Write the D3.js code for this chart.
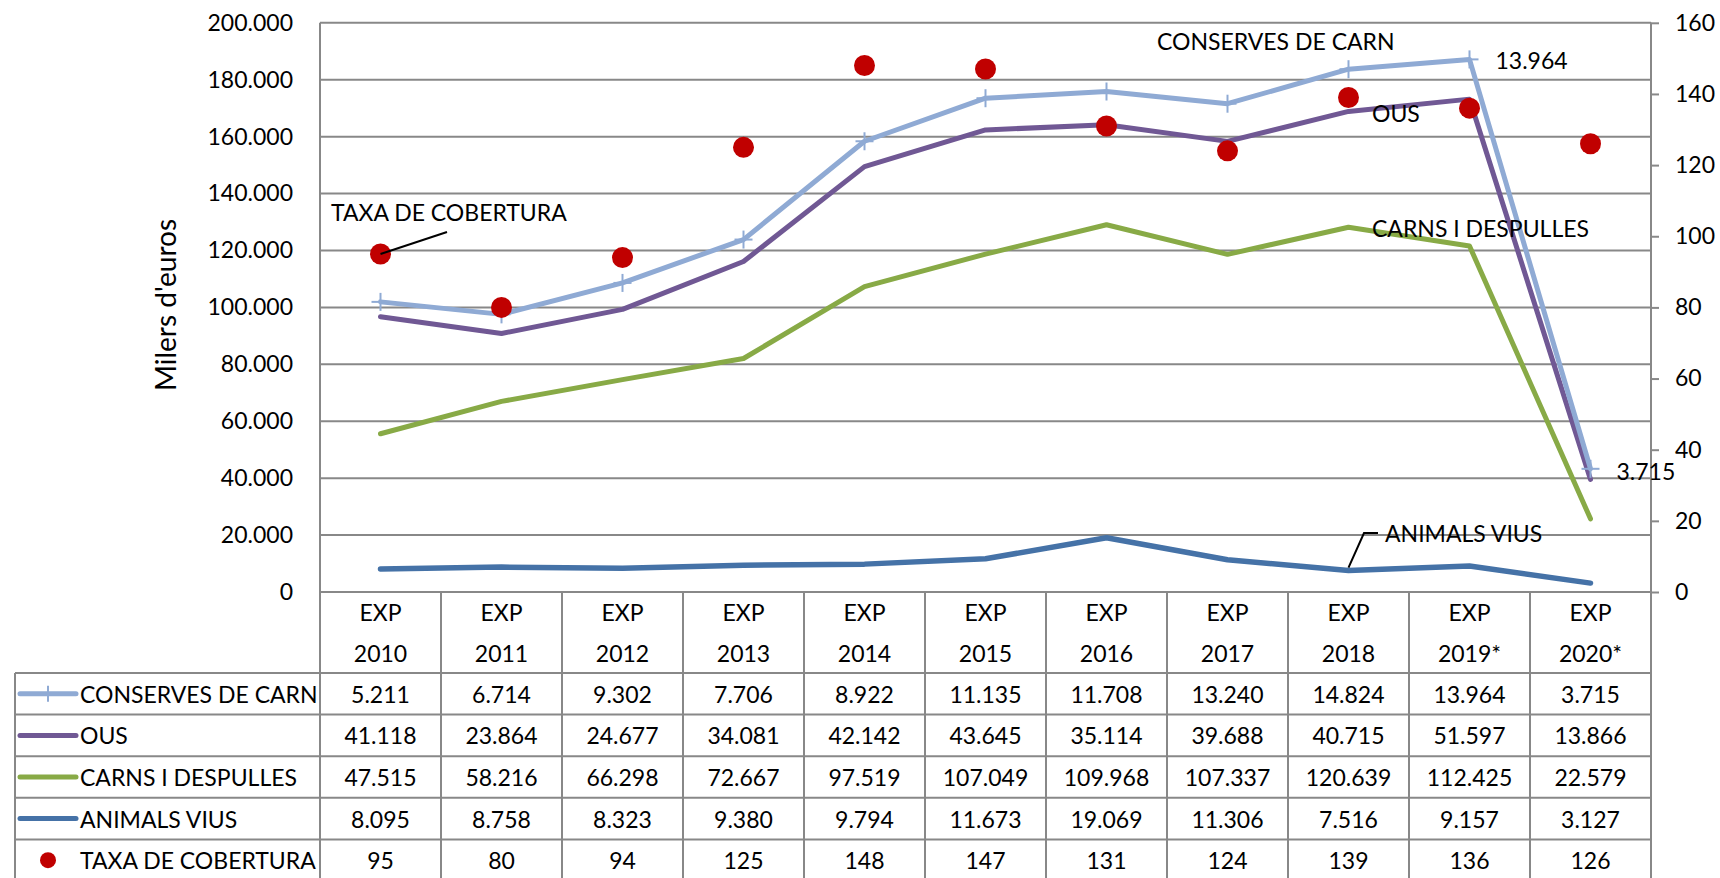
<!DOCTYPE html>
<html>
<head>
<meta charset="utf-8">
<script src="https://cdn.jsdelivr.net/npm/d3@7"></script>
<style>
  body { margin: 0; background: #fff; }
  svg text { font-family: Lato, "Open Sans", sans-serif; fill: #000; }
</style>
</head>
<body>
<div id="chart"></div>
<script>
// data (milers d'euros)
var years = ["2010", "2011", "2012", "2013", "2014", "2015", "2016", "2017", "2018", "2019*", "2020*"];
var conserves = [5211, 6714, 9302, 7706, 8922, 11135, 11708, 13240, 14824, 13964, 3715];
var ous = [41118, 23864, 24677, 34081, 42142, 43645, 35114, 39688, 40715, 51597, 13866];
var carns = [47515, 58216, 66298, 72667, 97519, 107049, 109968, 107337, 120639, 112425, 22579];
var animals = [8095, 8758, 8323, 9380, 9794, 11673, 19069, 11306, 7516, 9157, 3127];
var taxa = [95, 80, 94, 125, 148, 147, 131, 124, 139, 136, 126];
var leftTicks = [0, 20000, 40000, 60000, 80000, 100000, 120000, 140000, 160000, 180000, 200000];
var rightTicks = [0, 20, 40, 60, 80, 100, 120, 140, 160];

var width = 1720, height = 878;
var pLeft = 320, pRight = 1651, pTop = 22.8, pBottom = 592;
var tableLeft = 15, rowH = 41.6, bodyTop = 673;

var grid = "#888888";
var colors = {
  animals: "#4572A7",
  carns: "#88AA46",
  ous: "#705894",
  conserves: "#8FAAD4",
  taxa: "#C00000"
};

var loc = d3.formatLocale({decimal: ",", thousands: ".", grouping: [3], currency: ["", ""]});
var fmt = loc.format(",d");

var rows = years.map(function(y, i) {
  return {year: y, animals: animals[i], carns: carns[i], ous: ous[i], conserves: conserves[i], taxa: taxa[i]};
});

var svg = d3.select("#chart").append("svg")
  .attr("width", width)
  .attr("height", height);

var x = d3.scaleBand().domain(years).range([pLeft, pRight]).padding(0);
var yL = d3.scaleLinear().domain([0, 200000]).range([pBottom, pTop]);
var yR = d3.scaleLinear().domain([0, 160]).range([pBottom, pTop]);
var cx = function(d) { return x(d) + x.bandwidth() / 2; };

// gridlines
svg.append("g")
  .selectAll("line")
  .data(leftTicks.filter(function(t) { return t > 0; }))
  .enter().append("line")
  .attr("x1", pLeft).attr("x2", pRight)
  .attr("y1", function(d) { return yL(d); })
  .attr("y2", function(d) { return yL(d); })
  .attr("stroke", grid).attr("stroke-width", 2);

// left axis labels
var gL = svg.append("g")
  .attr("transform", "translate(" + pLeft + ",0)")
  .call(d3.axisLeft(yL).tickValues(leftTicks).tickSize(0).tickPadding(27).tickFormat(fmt));
gL.select(".domain").remove();
gL.selectAll("text").attr("font-size", 23).attr("font-family", "Lato");

// right axis
var gR = svg.append("g")
  .attr("transform", "translate(" + pRight + ",0)")
  .call(d3.axisRight(yR).tickValues(rightTicks).tickSize(8).tickSizeOuter(0).tickPadding(16));
gR.select(".domain").remove();
gR.selectAll("line").attr("stroke", grid).attr("stroke-width", 2);
gR.selectAll("text").attr("font-size", 23).attr("font-family", "Lato");

// table grid: verticals through plot bottom down to page end
var bounds = years.map(function(d) { return x(d); }).concat([pRight]);
svg.append("g")
  .selectAll("line")
  .data(bounds)
  .enter().append("line")
  .attr("x1", function(d) { return d; }).attr("x2", function(d) { return d; })
  .attr("y1", function(d, i) { return (i === 0 || i === bounds.length - 1) ? pTop : pBottom; })
  .attr("y2", height + 5)
  .attr("stroke", grid).attr("stroke-width", 2);

svg.append("line")
  .attr("x1", tableLeft).attr("x2", tableLeft)
  .attr("y1", bodyTop).attr("y2", height + 5)
  .attr("stroke", grid).attr("stroke-width", 2);

// horizontal lines: x axis + table rows
svg.append("line")
  .attr("x1", pLeft).attr("x2", pRight)
  .attr("y1", pBottom).attr("y2", pBottom)
  .attr("stroke", grid).attr("stroke-width", 2);
svg.append("g")
  .selectAll("line")
  .data(d3.range(6))
  .enter().append("line")
  .attr("x1", tableLeft).attr("x2", pRight)
  .attr("y1", function(i) { return bodyTop + i * rowH; })
  .attr("y2", function(i) { return bodyTop + i * rowH; })
  .attr("stroke", grid).attr("stroke-width", 2);

// header
var head = svg.append("g").selectAll("g").data(years).enter().append("g");
head.append("text")
  .attr("x", cx).attr("y", 612)
  .attr("text-anchor", "middle").attr("dominant-baseline", "central")
  .attr("font-size", 23).text("EXP");
head.append("text")
  .attr("x", cx).attr("y", 653)
  .attr("text-anchor", "middle").attr("dominant-baseline", "central")
  .attr("font-size", 23).text(function(d) { return d; });

// stacked series
var keys = ["animals", "carns", "ous", "conserves"];
var stacked = d3.stack().keys(keys)(rows);

var line = d3.line()
  .x(function(d) { return cx(d.data.year); })
  .y(function(d) { return yL(d[1]); });

svg.append("g")
  .selectAll("path")
  .data(stacked)
  .enter().append("path")
  .attr("d", line)
  .attr("fill", "none")
  .attr("stroke", function(d) { return colors[d.key]; })
  .attr("stroke-width", function(d) { return d.key === "animals" ? 5.5 : 5; })
  .attr("stroke-linejoin", "round")
  .attr("stroke-linecap", "round");

// + markers on conserves
var top4 = stacked[3];
var plus = svg.append("g").selectAll("g").data(top4).enter().append("g")
  .attr("transform", function(d) { return "translate(" + cx(d.data.year) + "," + yL(d[1]) + ")"; });
plus.append("line").attr("x1", -9).attr("x2", 9).attr("y1", 0).attr("y2", 0)
  .attr("stroke", colors.conserves).attr("stroke-width", 2);
plus.append("line").attr("x1", 0).attr("x2", 0).attr("y1", -9).attr("y2", 9)
  .attr("stroke", colors.conserves).attr("stroke-width", 2);

// taxa de cobertura dots
svg.append("g")
  .selectAll("circle")
  .data(rows)
  .enter().append("circle")
  .attr("cx", function(d) { return cx(d.year); })
  .attr("cy", function(d) { return yR(d.taxa); })
  .attr("r", 10.5)
  .attr("fill", colors.taxa);

// annotations
function label(txt, tx, ty) {
  svg.append("text").attr("x", tx).attr("y", ty)
    .attr("dominant-baseline", "central").attr("font-size", 23).text(txt);
}
var i19 = 9, i20 = 10, i18 = 8, i10 = 0;
label("TAXA DE COBERTURA", 331, 212);
svg.append("line")
  .attr("x1", 447).attr("y1", 232)
  .attr("x2", cx(years[i10])).attr("y2", yR(taxa[i10]))
  .attr("stroke", "#000").attr("stroke-width", 2);
label("CONSERVES DE CARN", 1157, 41);
label(fmt(conserves[i19]), cx(years[i19]) + 26, yL(top4[i19][1]) + 1);
label("OUS", 1372, 113);
label("CARNS I DESPULLES", 1372, 228);
label(fmt(conserves[i20]), cx(years[i20]) + 26, yL(top4[i20][1]) + 2);
label("ANIMALS VIUS", 1385, 533);
svg.append("polyline")
  .attr("points", [[cx(years[i18]), yL(stacked[0][i18][1]) - 3], [1364, 533], [1378, 533]].join(" "))
  .attr("fill", "none").attr("stroke", "#000").attr("stroke-width", 2);

// y title
svg.append("text")
  .attr("transform", "translate(165,305) rotate(-90)")
  .attr("text-anchor", "middle").attr("dominant-baseline", "central")
  .attr("font-size", 28).text("Milers d'euros");

// table body
var tableRows = [
  {name: "CONSERVES DE CARN", key: "conserves", vals: conserves},
  {name: "OUS", key: "ous", vals: ous},
  {name: "CARNS I DESPULLES", key: "carns", vals: carns},
  {name: "ANIMALS VIUS", key: "animals", vals: animals},
  {name: "TAXA DE COBERTURA", key: "taxa", vals: taxa}
];

var tr = svg.append("g").selectAll("g").data(tableRows).enter().append("g")
  .attr("transform", function(d, i) { return "translate(0," + (bodyTop + (i + 0.5) * rowH) + ")"; });

tr.append("text")
  .attr("x", 80).attr("y", 0)
  .attr("dominant-baseline", "central").attr("font-size", 23)
  .text(function(d) { return d.name; });

tr.filter(function(d) { return d.key !== "taxa"; })
  .append("line")
  .attr("x1", 20).attr("x2", 76).attr("y1", 0).attr("y2", 0)
  .attr("stroke", function(d) { return colors[d.key]; })
  .attr("stroke-width", 5).attr("stroke-linecap", "round");
tr.filter(function(d) { return d.key === "conserves"; })
  .append("line")
  .attr("x1", 48).attr("x2", 48).attr("y1", -8).attr("y2", 8)
  .attr("stroke", colors.conserves).attr("stroke-width", 2);
tr.filter(function(d) { return d.key === "taxa"; })
  .append("circle")
  .attr("cx", 48).attr("cy", 0).attr("r", 8)
  .attr("fill", colors.taxa);

tr.selectAll("text.v")
  .data(function(d) { return d.vals.map(function(v, j) { return {v: v, j: j}; }); })
  .enter().append("text")
  .attr("class", "v")
  .attr("x", function(d) { return cx(years[d.j]); })
  .attr("y", 0)
  .attr("text-anchor", "middle").attr("dominant-baseline", "central")
  .attr("font-size", 23)
  .text(function(d) { return fmt(d.v); });
</script>
</body>
</html>
